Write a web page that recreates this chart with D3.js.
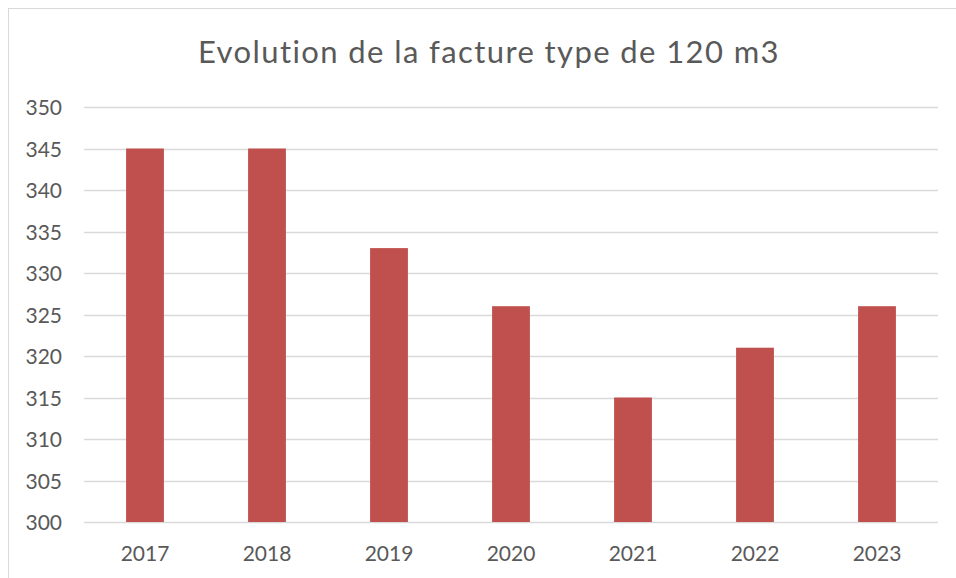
<!DOCTYPE html>
<html>
<head>
<meta charset="utf-8">
<script src="https://cdn.jsdelivr.net/npm/d3@7"></script>
<style>
  html, body { margin: 0; padding: 0; background: #fff; }
  svg { display: block; }
</style>
</head>
<body>
<div id="chart"></div>
<script>
const years = ["2017", "2018", "2019", "2020", "2021", "2022", "2023"];
const values = [345, 345, 333, 326, 315, 321, 326];
const yTicks = [300, 305, 310, 315, 320, 325, 330, 335, 340, 345, 350];
const title = "Evolution de la facture type de 120 m3";

const width = 956, height = 578;
const margin = { left: 84, right: 18, top: 107, bottom: 56 };
const font = "Lato, 'Open Sans', sans-serif";

const svg = d3.select("#chart").append("svg")
    .attr("width", width)
    .attr("height", height);

// cadre du graphique
svg.append("rect")
    .attr("x", 8.5).attr("y", 8.5)
    .attr("width", width + 20).attr("height", height + 20)
    .attr("fill", "#fff")
    .attr("stroke", "#d9d9d9");

const x = d3.scaleBand()
    .domain(years)
    .range([margin.left, width - margin.right])
    .paddingInner(0.69)
    .paddingOuter(0.345);

const y = d3.scaleLinear()
    .domain([300, 350])
    .range([height - margin.bottom, margin.top]);

// grille
svg.append("g")
    .selectAll("line")
    .data(yTicks)
    .join("line")
    .attr("x1", margin.left).attr("x2", width - margin.right)
    .attr("y1", d => Math.round(y(d)) + 0.5)
    .attr("y2", d => Math.round(y(d)) + 0.5)
    .attr("stroke", "#d9d9d9")
    .attr("stroke-width", 1.3);

// axe y
const yAxis = svg.append("g")
    .attr("transform", `translate(62,0)`)
    .call(d3.axisLeft(y).tickValues(yTicks).tickSize(0).tickPadding(0));
yAxis.select(".domain").remove();
yAxis.selectAll("text")
    .attr("dy", "0.37em")
    .attr("font-family", font)
    .attr("font-size", 21)
    .attr("fill", "#595959");

// barres
svg.append("g")
    .selectAll("rect")
    .data(values)
    .join("rect")
    .attr("x", (d, i) => x(years[i]))
    .attr("width", x.bandwidth())
    .attr("y", d => y(d))
    .attr("height", d => y(300) - y(d))
    .attr("fill", "#c0504d");

// axe x
const xAxis = svg.append("g")
    .attr("transform", `translate(0,${height - margin.bottom})`)
    .call(d3.axisBottom(x).tickSize(0));
xAxis.select(".domain").remove();
xAxis.selectAll("text")
    .attr("y", 39)
    .attr("dy", null)
    .attr("font-family", font)
    .attr("font-size", 21)
    .attr("fill", "#595959");

// titre
svg.append("text")
    .attr("x", 489)
    .attr("y", 63)
    .attr("text-anchor", "middle")
    .attr("font-family", font)
    .attr("font-size", 31)
    .attr("letter-spacing", 1.4)
    .attr("fill", "#595959")
    .text(title);
</script>
</body>
</html>
